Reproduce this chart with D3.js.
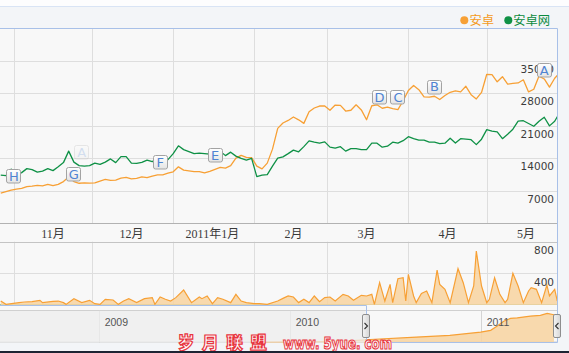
<!DOCTYPE html>
<html><head><meta charset="utf-8">
<script src="https://cdn.jsdelivr.net/npm/d3@7"></script>
<style>
html,body{margin:0;padding:0;background:#f4f5f8;}
svg{display:block;}
</style></head><body>
<svg id="c" width="569" height="353"></svg>
<script>
// ---------- DATA ----------
const seriesNames = ["安卓", "安卓网"];
const startDate = "2010-10-12";   // first sample of the two lines
const stepDays = 2;               // one sample every two days
const anzhuo = [6470,6790,7110,7330,7480,7870,7970,8120,8020,8360,
8060,8340,8940,9910,8940,8580,8660,8620,8660,9050,
9400,9220,9270,9700,9870,9530,9630,9980,9780,10130,
10390,10410,10780,11060,12130,11420,11270,11100,11100,10820,
11160,11570,12000,11850,12370,14010,14610,14180,14120,12280,
11700,12930,15950,20430,21590,22150,22890,22280,21510,24010,
24830,25260,25260,24350,25470,25390,24180,24350,25520,24420,
22300,25320,25520,24780,25000,24680,24480,26400,28600,29700,
28790,27220,27180,27370,26660,27520,28230,28530,28320,29520,
27710,26790,28190,32110,32020,30490,31590,30000,30130,30240,
30920,28300,28880,31720,31100,29350,31250,32540];
const anzhuowang = [10340,10240,11640,10340,10880,11740,11530,10990,11210,11740,
11310,12130,13040,15520,13150,12390,12280,12390,12930,12650,
13150,13840,13040,14330,14330,12930,12870,13080,13580,13250,
13900,13790,13680,14980,16660,15840,15410,14980,15090,14980,
14870,14980,15520,14550,15300,14440,13940,13580,13940,10020,
10340,10450,12280,14010,14290,14980,15730,15370,16490,17740,
17460,17240,17520,16380,16160,16490,15520,16060,16060,15840,
15840,17240,17240,16380,16590,17460,17240,17780,18640,18210,
17890,17890,17460,17460,17130,17240,18320,17280,18210,18100,
17990,16920,18100,20150,19830,19680,18210,19180,20260,21980,
22090,21490,20900,21980,22840,20970,21980,23920];

// lower pane (daily values, day offset from startDate)
const volDays = [0,2,7,9,12,15,16,20,22,24,25,28,31,34,36,38,40,43,45,47,49,52,55,58,59,61,63,65,67,70,73,76,77,79,81,83,85,88,90,92,94,97,99,102,106,108,110,112,114,116,118,120,122,124,126,128,131,133,135,138,140,142,143,145,147,149,150,152,154,155,156,158,159,161,163,165,167,168,170,172,175,177,179,181,182,184,186,187,189,191,193,194,196,198,200,202,203,205,207,209,210,212,213];
const volValues = [50,8,30,38,42,59,30,46,50,30,8,80,30,59,17,8,72,63,8,50,80,30,80,93,8,101,72,50,93,190,30,101,80,114,17,93,72,30,135,50,30,17,17,8,50,84,114,101,30,72,30,114,42,93,101,50,135,114,59,122,114,135,8,282,50,261,30,333,345,50,387,114,30,147,177,30,442,261,198,30,459,282,30,240,682,240,30,72,345,135,30,72,400,240,30,177,219,198,30,253,114,198,50];

// navigator
const navDates = ["2009-11-01","2010-01-01","2010-03-01","2010-05-01","2010-05-26","2010-08-31","2010-11-03","2011-01-01","2011-01-20","2011-02-01","2011-02-14","2011-02-27","2011-03-12","2011-04-06","2011-04-25","2011-05-08","2011-05-21"];
const navValues = [600,800,1200,2200,3270,6420,8480,12480,14540,19390,25450,28720,29450,31510,32360,34780,33090];
const navYearDates = ["2009-01-01","2010-01-01","2011-01-01"];
const navYearLabels = ["2009","2010","2011"];
const navSelection = ["2010-05-26","2011-05-26"];

// axes
const monthTickDates = ["2010-11-01","2010-12-01","2011-01-01","2011-02-01","2011-03-01","2011-04-01","2011-05-01"];
const monthTickLabels = ["11月","12月","2011年1月","2月","3月","4月","5月"];
const gridDates = ["2010-10-17","2010-11-16","2010-12-17","2011-01-17","2011-02-14","2011-03-17","2011-04-16"];
const yTicks = [7000,14000,21000,28000,35000];
const volTicks = [400,800];

// flags
const flagLetters = ["H","G","A","F","E","D","C","B","A"];
const flagDates = ["2010-10-17","2010-11-09","2010-11-12","2010-12-12","2011-01-02","2011-03-06","2011-03-13","2011-03-27","2011-05-08"];
const flagValues = [10190,10560,15340,13210,14720,27220,27150,29460,33040];
const flagFaded = [false,false,true,false,false,false,false,false,false];

// ---------- DRAW ----------
const W = 569, H = 353;
const orange = "#f7a035", green = "#0f9146";
const svg = d3.select("#c");
const P = s => new Date(s + "T00:00:00Z");
const t0 = P(startDate);
const plotR = 557, mainTop = 28.5, mainBot = 223;
const volTop = 241.7, volBot = 305;
const navTop = 310.5, navBot = 342.5;

const x = d3.scaleUtc().domain([t0, d3.utcDay.offset(t0, 213)]).range([0.74, 0.74 + 213 * 2.613]);
const y = d3.scaleLinear().domain([0, 42000]).range([mainBot, mainTop]);
const yv = d3.scaleLinear().domain([0, 800]).range([volBot, volTop]);
const xn = d3.scaleUtc().domain([P("2009-01-01"), P("2011-01-01")]).range([98.7, 480.7]);
const yn = d3.scaleLinear().domain([0, 40000]).range([navBot, 309]);

const lineDates = anzhuo.map((_, i) => d3.utcDay.offset(t0, i * stepDays));

const defs = svg.append("defs");
defs.append("clipPath").attr("id", "cm").append("rect").attr("x", 0).attr("y", mainTop).attr("width", plotR).attr("height", mainBot - mainTop);
defs.append("clipPath").attr("id", "cv").append("rect").attr("x", 0).attr("y", volTop - 2).attr("width", plotR).attr("height", volBot - volTop + 2);
defs.append("clipPath").attr("id", "cn").append("rect").attr("x", 0).attr("y", navTop - 4).attr("width", plotR).attr("height", navBot - navTop + 4);
const fg = defs.append("linearGradient").attr("id", "fg").attr("x1", 0).attr("y1", 0).attr("x2", 0).attr("y2", 1);
fg.append("stop").attr("offset", "0%").attr("stop-color", "#ffffff");
fg.append("stop").attr("offset", "100%").attr("stop-color", "#e4e4e4");
const hg = defs.append("linearGradient").attr("id", "hg").attr("x1", 0).attr("y1", 0).attr("x2", 1).attr("y2", 0);
hg.append("stop").attr("offset", "0%").attr("stop-color", "#f4f4f4");
hg.append("stop").attr("offset", "100%").attr("stop-color", "#d6d6d6");

// backgrounds
svg.append("rect").attr("width", W).attr("height", H).attr("fill", "#f3f5f8");
svg.append("rect").attr("width", W).attr("height", 6).attr("fill", "#fdfdfe");
svg.append("line").attr("x1", 0).attr("x2", W).attr("y1", 6.5).attr("y2", 6.5).attr("stroke", "#d9e4f5");
svg.append("rect").attr("x", 0).attr("y", mainTop).attr("width", plotR).attr("height", navBot - mainTop).attr("fill", "#f8f8f8");

const grid = "#dedede";
// main gridlines
svg.append("g").selectAll("line").data(yTicks).join("line")
  .attr("x1", 0).attr("x2", plotR).attr("y1", d => Math.round(y(d)) + 0.5).attr("y2", d => Math.round(y(d)) + 0.5)
  .attr("stroke", grid);
svg.append("g").selectAll("line").data(gridDates).join("line")
  .attr("x1", d => Math.round(x(P(d))) + 0.5).attr("x2", d => Math.round(x(P(d))) + 0.5)
  .attr("y1", mainTop).attr("y2", mainBot).attr("stroke", grid);
// volume gridlines
svg.append("g").selectAll("line").data(volTicks.slice(0, 1)).join("line")
  .attr("x1", 0).attr("x2", plotR).attr("y1", d => Math.round(yv(d)) + 0.5).attr("y2", d => Math.round(yv(d)) + 0.5)
  .attr("stroke", grid);
svg.append("g").selectAll("line").data(gridDates).join("line")
  .attr("x1", d => Math.round(x(P(d))) + 0.5).attr("x2", d => Math.round(x(P(d))) + 0.5)
  .attr("y1", volTop).attr("y2", volBot).attr("stroke", grid);

// axis lines
svg.append("line").attr("x1", 0).attr("x2", plotR).attr("y1", mainBot + 0.5).attr("y2", mainBot + 0.5).attr("stroke", "#b2b2b2");
svg.append("line").attr("x1", 0).attr("x2", plotR).attr("y1", Math.round(volTop) + 0.5).attr("y2", Math.round(volTop) + 0.5).attr("stroke", "#c4c4c4");

// month labels
svg.append("g").selectAll("text").data(monthTickDates).join("text")
  .attr("x", d => x(P(d))).attr("y", 237.5).attr("text-anchor", "middle")
  .attr("font-family", "'Liberation Serif','Noto Sans CJK SC',serif").attr("font-size", 12).attr("fill", "#3a3a3a")
  .text((d, i) => monthTickLabels[i]);

// volume area
const volData = volDays.map((d, i) => ({ t: d3.utcDay.offset(t0, d), v: volValues[i] }));
const gv = svg.append("g").attr("clip-path", "url(#cv)");
gv.append("line").attr("x1", 0).attr("x2", plotR).attr("y1", volBot - 0.5).attr("y2", volBot - 0.5).attr("stroke", "#8cc49c").attr("stroke-width", 1.2);
gv.append("path").datum(volData)
  .attr("d", d3.area().x(d => x(d.t)).y0(volBot).y1(d => yv(d.v)))
  .attr("fill", "#f8d3a0").attr("fill-opacity", 0.85);
gv.append("path").datum(volData)
  .attr("d", d3.line().x(d => x(d.t)).y(d => yv(d.v)))
  .attr("fill", "none").attr("stroke", orange).attr("stroke-width", 1.2);

// navigator
svg.append("line").attr("x1", 0).attr("x2", plotR).attr("y1", navTop).attr("y2", navTop).attr("stroke", "#d0d0d0");
svg.append("line").attr("x1", 0).attr("x2", plotR).attr("y1", navBot - 0.5).attr("y2", navBot - 0.5).attr("stroke", "#d0d0d0");
svg.append("g").selectAll("line").data(navYearDates).join("line")
  .attr("x1", d => Math.round(xn(P(d))) + 0.5).attr("x2", d => Math.round(xn(P(d))) + 0.5)
  .attr("y1", navTop).attr("y2", navBot).attr("stroke", "#d4d4d4");
const navData = navDates.map((d, i) => ({ t: P(d), v: navValues[i] }));
const gn = svg.append("g").attr("clip-path", "url(#cn)");
gn.append("path").datum(navData)
  .attr("d", d3.area().x(d => xn(d.t)).y0(navBot).y1(d => yn(d.v)))
  .attr("fill", "#f8d3a0").attr("fill-opacity", 0.85);
gn.append("path").datum(navData)
  .attr("d", d3.line().x(d => xn(d.t)).y(d => yn(d.v)))
  .attr("fill", "none").attr("stroke", orange).attr("stroke-width", 1.2);
const selL = xn(P(navSelection[0])), selR = plotR;
svg.append("rect").attr("x", 0).attr("y", navTop + 0.5).attr("width", selL).attr("height", navBot - navTop - 1)
  .attr("fill", "#eeeeee").attr("fill-opacity", 0.75);
svg.append("g").selectAll("text").data(navYearDates).join("text")
  .attr("x", d => xn(P(d)) + 6).attr("y", 326)
  .attr("font-family", "'Liberation Sans',Arial,sans-serif").attr("font-size", 10.5).attr("fill", "#555")
  .text((d, i) => navYearLabels[i]);
// outline
svg.append("path")
  .attr("d", `M0,${volBot + 0.5}H${Math.round(selL) + 0.5}V${navBot}H${plotR + 0.5}V${mainTop}H0`)
  .attr("fill", "none").attr("stroke", "#a8c0e8");
// handles
[selL, selR].forEach((hx, k) => {
  const g = svg.append("g");
  g.append("rect").attr("x", Math.round(hx) - 3.5).attr("y", 314.5).attr("width", 7).attr("height", 23).attr("rx", 1.5)
    .attr("fill", "url(#hg)").attr("stroke", "#8e8e8e");
  const cx = Math.round(hx), cy = 326;
  const dir = k === 0 ? 1 : -1;
  g.append("path").attr("d", `M${cx - dir * 1.5},${cy - 3}L${cx + dir * 1.5},${cy}L${cx - dir * 1.5},${cy + 3}`)
    .attr("fill", "none").attr("stroke", "#333").attr("stroke-width", 1.1);
});

// main series
const gm = svg.append("g").attr("clip-path", "url(#cm)");
const ln = d3.line().x((d, i) => x(lineDates[i])).y(d => y(d));
gm.append("path").datum(anzhuo).attr("d", ln).attr("fill", "none").attr("stroke", orange).attr("stroke-width", 1.3).attr("stroke-linejoin", "round");
gm.append("path").datum(anzhuowang).attr("d", ln).attr("fill", "none").attr("stroke", green).attr("stroke-width", 1.3).attr("stroke-linejoin", "round");

// y labels
svg.append("g").selectAll("text").data(yTicks).join("text")
  .attr("x", 554).attr("y", d => y(d) + 12).attr("text-anchor", "end")
  .attr("font-family", "'DejaVu Sans',Verdana,sans-serif").attr("font-size", 10.5).attr("fill", "#3c3c3c")
  .text(d => d);
svg.append("g").selectAll("text").data(volTicks).join("text")
  .attr("x", 554).attr("y", d => yv(d) + 12.5).attr("text-anchor", "end")
  .attr("font-family", "'DejaVu Sans',Verdana,sans-serif").attr("font-size", 10.5).attr("fill", "#3c3c3c")
  .text(d => d);

// flags
const gf = svg.append("g");
flagLetters.forEach((L, i) => {
  const cx = x(P(flagDates[i])), cy = y(flagValues[i]);
  const g = gf.append("g").attr("opacity", flagFaded[i] ? 0.22 : 1);
  g.append("rect").attr("x", Math.round(cx - 7.5) + 0.5).attr("y", Math.round(cy - 7) + 0.5).attr("width", 14).attr("height", 13.5).attr("rx", 2)
    .attr("fill", "url(#fg)").attr("stroke", "#a3a3a3");
  g.append("text").attr("x", cx).attr("y", cy + 4.8).attr("text-anchor", "middle")
    .attr("font-family", "'DejaVu Sans',Verdana,sans-serif").attr("font-size", 13).attr("fill", "#4f84d2")
    .text(L);
});

// legend
const legend = [{ n: seriesNames[0], c: orange, tc: "#f39a22", cx: 464.3, tx: 469.5 },
                { n: seriesNames[1], c: green, tc: "#0b8a3e", cx: 508.3, tx: 513.2 }];
legend.forEach(l => {
  svg.append("circle").attr("cx", l.cx).attr("cy", 20.3).attr("r", 4).attr("fill", l.c);
  svg.append("text").attr("x", l.tx).attr("y", 24.5).attr("font-family", "'Noto Sans CJK SC',sans-serif")
    .attr("font-size", 12.3).attr("fill", l.tc).text(l.n);
});

// watermark
svg.append("text").attr("x", 178).attr("y", 349).attr("font-family", "'Noto Sans CJK SC',sans-serif").attr("font-weight", 900)
  .attr("font-size", 16.5).attr("letter-spacing", 7.6).attr("fill", "#ffffff").attr("stroke", "#e8353f").attr("stroke-width", 1.2)
  .text("岁月联盟");
svg.append("text").attr("x", 283).attr("y", 349).attr("font-family", "'DejaVu Sans',sans-serif").attr("font-weight", "bold")
  .attr("font-size", 16).attr("textLength", 109).attr("lengthAdjust", "spacingAndGlyphs")
  .attr("fill", "#ffffff").attr("stroke", "#e8353f").attr("stroke-width", 1.2)
  .text("www. 5yue. com");

// bottom dark edge
svg.append("rect").attr("x", 0).attr("y", 351).attr("width", W).attr("height", 2).attr("fill", "#1d2433");
</script>
</body></html>
